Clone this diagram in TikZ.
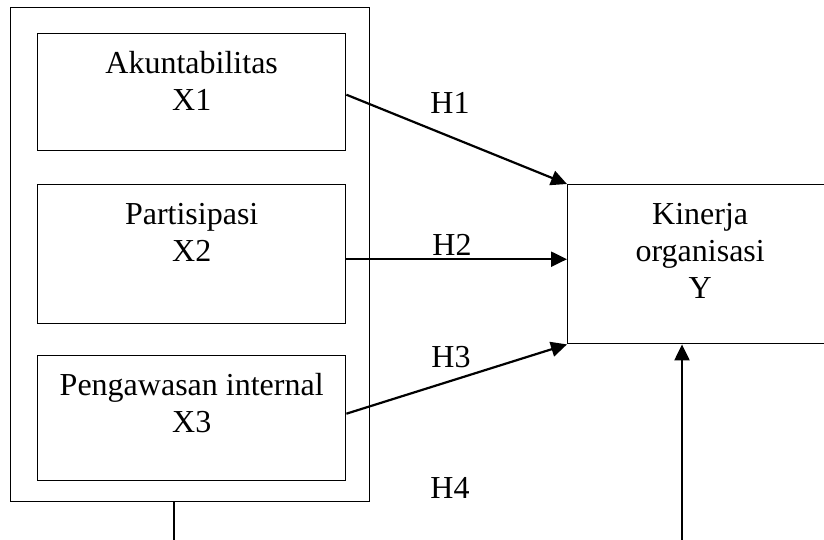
\documentclass[tikz,border=0pt]{standalone}
\usepackage{fontspec}
\setmainfont{Liberation Serif}
\usetikzlibrary{arrows.meta}

\tikzset{
  varbox/.style={draw, line width=0.7pt, anchor=north west, inner sep=0pt},
  hyp/.style={line width=1.1pt, -{Triangle[length=8pt,width=7.5pt]}},
  hlabel/.style={anchor=base, inner sep=0pt},
}
% text set at the top of a box of fixed size
\newcommand{\boxtext}[3]{\parbox[t][#2][t]{#1}{\centering\rule{0pt}{20pt}#3}}

\begin{document}
\begin{tikzpicture}[x=0.5pt, y=-0.5pt, font=\fontsize{16}{18.5}\selectfont]
\useasboundingbox (0,0) rectangle (824,540);

% outer frame
\node[varbox, minimum width=179.5pt, minimum height=247pt] (frame) at (10,7) {};

% independent variables
\node[varbox] (akun) at (37,33) {\boxtext{154pt}{58.5pt}{Akuntabilitas\\X1}};
\node[varbox] (part) at (37,184) {\boxtext{154pt}{69.5pt}{Partisipasi\\X2}};
\node[varbox] (peng) at (37,355) {\boxtext{154pt}{62.5pt}{Pengawasan internal\\X3}};

% dependent variable
\node[varbox] (kinerja) at (567,184) {\boxtext{132.5pt}{79.5pt}{Kinerja\\organisasi\\Y}};

% hypotheses
\draw[hyp] ([yshift=-1.25pt]akun.east) -- (kinerja.north west);
\draw[hyp] ([yshift=-2.5pt]part.east) -- ([yshift=-2.5pt]part.east -| kinerja.west);
\draw[hyp] ([yshift=2.25pt]peng.east) -- (kinerja.south west);

\coordinate (fbot) at (174,540);
\coordinate (kbot) at (682,540);
\draw[line width=0.7pt] (frame.south -| fbot) -- (fbot);
\draw[hyp] (kbot) -- (kbot |- kinerja.south);

\node[hlabel] (h1) at (450,113) {H1};
\node[hlabel] (h2) at (452,255) {H2};
\node[hlabel] (h3) at (451,367) {H3};
\node[hlabel] (h4) at (450,498) {H4};
\end{tikzpicture}
\end{document}
